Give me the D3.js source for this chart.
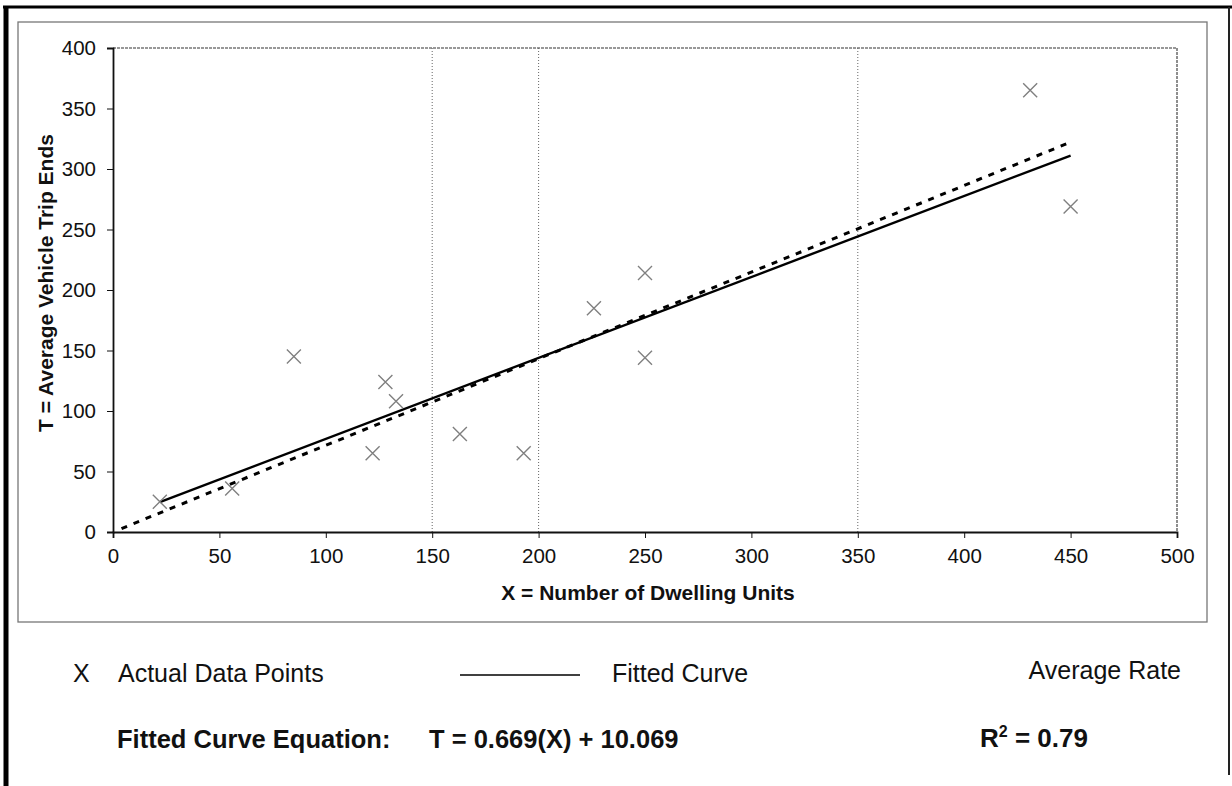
<!DOCTYPE html>
<html>
<head>
<meta charset="utf-8">
<script src="https://cdn.jsdelivr.net/npm/d3@7"></script>
<style>
  body { margin: 0; background: #fff; }
  svg text { font-family: "Liberation Sans", Arial, sans-serif; fill: #111; }
</style>
</head>
<body>
<div id="chart-area"></div>
<script>
// trip generation scatter - dwelling units vs vehicle trip ends

const dwellingUnits = [22, 56, 85, 122, 128, 133, 163, 193, 226, 250, 250, 431, 450]
const tripEnds      = [25, 36, 145, 65, 124, 108, 81, 65, 185, 214, 144, 365, 269]

const xTicks = [0, 50, 100, 150, 200, 250, 300, 350, 400, 450, 500]
const yTicks = [0, 50, 100, 150, 200, 250, 300, 350, 400]
const faintGrid = [150, 200, 350]

const fitSlope = 0.669, fitIntercept = 10.069
const avgRate = 0.716
const fitRange = [22, 450]
const avgRange = [4, 450]

const W = 1232, H = 786
const PLOT = {LEFT:113, RIGHT:1177, TOP:48, BOTTOM:532}

const svg = d3.select("#chart-area").append("svg")
    .attr("width", W)
    .attr("height", H)

// frame
svg.append("rect").attr("x",18).attr("y",22).attr("width",1189).attr("height",600)
    .attr("fill","none").attr("stroke","#777").attr("stroke-width",1.3)
svg.append("line").attr("x1",6).attr("x2",6).attr("y1",6).attr("y2",H)
    .attr("stroke","#000").attr("stroke-width",5)
svg.append("line").attr("x1",3).attr("x2",W).attr("y1",7).attr("y2",7)
    .attr("stroke","#000").attr("stroke-width",3)
svg.append("line").attr("x1",1229).attr("x2",1229).attr("y1",7).attr("y2",775)
    .attr("stroke","#222").attr("stroke-width",2)

const x = d3.scaleLinear().domain([0, 500]).range([PLOT.LEFT, PLOT.RIGHT])
const y = d3.scaleLinear().domain([0, 400]).range([PLOT.BOTTOM, PLOT.TOP])

// plot border (top + right dotted as in scan)
svg.append("line").attr("x1",x(0)).attr("x2",x(500)).attr("y1",y(400)).attr("y2",y(400))
    .attr("stroke","#333").attr("stroke-width",1.2).attr("stroke-dasharray","3,1")
svg.append("line").attr("x1",x(500)).attr("x2",x(500)).attr("y1",y(400)).attr("y2",y(0))
    .attr("stroke","#444").attr("stroke-width",1.2).attr("stroke-dasharray","3,1")

// faint vertical grid remains
svg.selectAll(".vgrid").data(faintGrid).enter().append("line")
    .attr("class","vgrid")
    .attr("x1",d => x(d)).attr("x2",d => x(d))
    .attr("y1",y(400)).attr("y2",y(0))
    .attr("stroke","#666").attr("stroke-width",1).attr("stroke-dasharray","1,2")

// axes
const xAxisCall = d3.axisBottom(x).tickValues(xTicks).tickSize(6).tickPadding(10)
svg.append("g")
    .attr("class","x axis")
    .attr("transform",`translate(0, ${PLOT.BOTTOM})`)
    .call(xAxisCall)
    .call(g => g.select(".domain").attr("stroke","#111").attr("stroke-width",1.8))
    .call(g => g.selectAll(".tick line").attr("stroke","#111"))
    .selectAll("text")
      .attr("font-size","20.5px")

const yAxisCall = d3.axisLeft(y).tickValues(yTicks).tickSize(6).tickPadding(11)
svg.append("g")
    .attr("class","y axis")
    .attr("transform",`translate(${PLOT.LEFT}, 0)`)
    .call(yAxisCall)
    .call(g => g.select(".domain").attr("stroke","#111").attr("stroke-width",1.8))
    .call(g => g.selectAll(".tick line").attr("stroke","#111"))
    .selectAll("text")
      .attr("font-size","20.5px")

// axis labels
svg.append("text")
    .attr("x", 648).attr("y", 600)
    .attr("font-size","21px").attr("font-weight","bold")
    .attr("text-anchor","middle")
    .text("X = Number of Dwelling Units")

svg.append("text")
    .attr("transform","translate(53, 283) rotate(-90)")
    .attr("font-size","21px").attr("font-weight","bold")
    .attr("text-anchor","middle")
    .text("T = Average Vehicle Trip Ends")

// average rate (dashed) and fitted curve (solid)
const line = d3.line().x(d => x(d[0])).y(d => y(d[1]))

svg.append("path")
    .datum(avgRange.map(v => [v, avgRate * v]))
    .attr("d", line)
    .attr("fill","none").attr("stroke","#000").attr("stroke-width",3)
    .attr("stroke-dasharray","6,7")

svg.append("path")
    .datum(fitRange.map(v => [v, fitSlope * v + fitIntercept]))
    .attr("d", line)
    .attr("fill","none").attr("stroke","#000").attr("stroke-width",2.4)

// data points as X marks
const pts = dwellingUnits.map((d, i) => [d, tripEnds[i]])
const s = 7
svg.selectAll(".pt").data(pts).enter().append("path")
    .attr("class","pt")
    .attr("d", d => {
        const cx = x(d[0]), cy = y(d[1])
        return `M${cx-s},${cy-s}L${cx+s},${cy+s}M${cx-s},${cy+s}L${cx+s},${cy-s}`
    })
    .attr("fill","none").attr("stroke","#808080").attr("stroke-width",1.4)

// legend
svg.append("text").attr("x",73).attr("y",682).attr("font-size","25px").text("X")
svg.append("text").attr("x",118).attr("y",682).attr("font-size","25px").text("Actual Data Points")
svg.append("line").attr("x1",460).attr("x2",580).attr("y1",675).attr("y2",675)
    .attr("stroke","#000").attr("stroke-width",1.5)
svg.append("text").attr("x",612).attr("y",682).attr("font-size","25px").text("Fitted Curve")
svg.append("text").attr("x",1181).attr("y",679).attr("font-size","25px")
    .attr("text-anchor","end").text("Average Rate")

svg.append("text").attr("x",117).attr("y",748).attr("font-size","25.5px")
    .attr("font-weight","bold").text("Fitted Curve Equation:")
svg.append("text").attr("x",429).attr("y",748).attr("font-size","25.5px")
    .attr("font-weight","bold").text("T = 0.669(X) + 10.069")

const r2 = svg.append("text").attr("x",980).attr("y",747).attr("font-size","26px")
    .attr("font-weight","bold")
r2.append("tspan").text("R")
r2.append("tspan").attr("font-size","16px").attr("dy",-10).text("2")
r2.append("tspan").attr("dy",10).text(" = 0.79")
</script>
</body>
</html>
